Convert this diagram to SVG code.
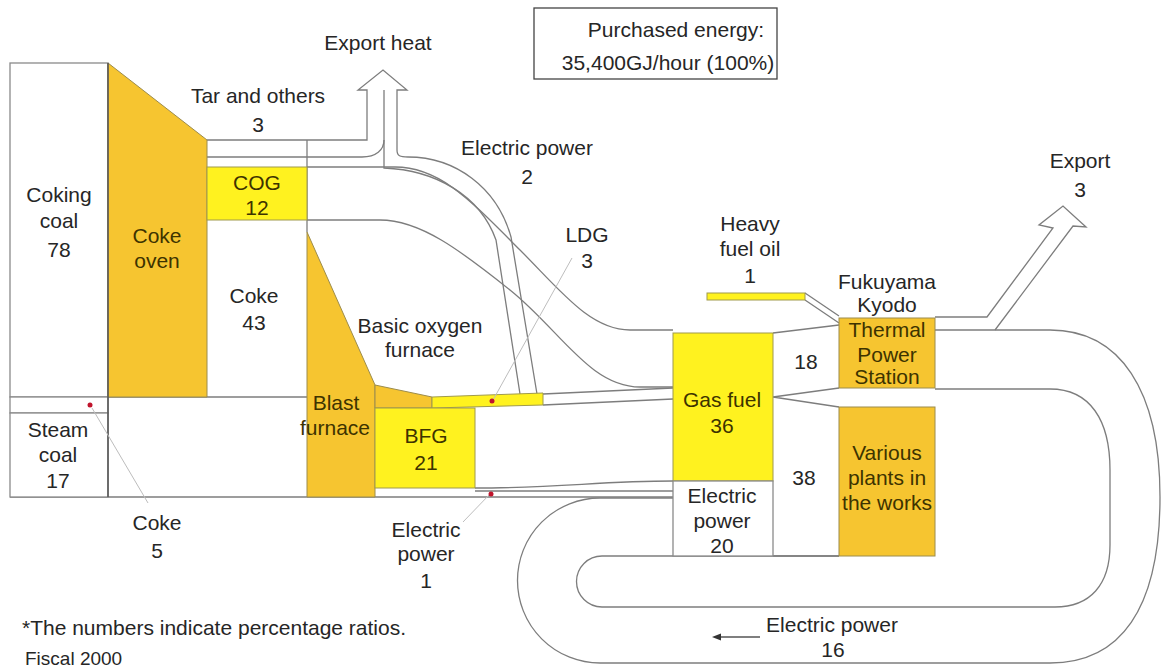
<svg xmlns="http://www.w3.org/2000/svg" width="1168" height="671" viewBox="0 0 1168 671">
<style>
.t{font-family:"Liberation Sans",Arial,sans-serif;font-size:21px;fill:#262626;text-anchor:middle}
.tb{fill:#3d3300}
.ln{fill:none;stroke:#7d7d7d;stroke-width:1.3}
.org{fill:#F6C530;stroke:#9c8c4c;stroke-width:1}
.yel{fill:#FFF21F;stroke:#a09a4c;stroke-width:1}
.box{fill:#fff;stroke:#8a8a8a;stroke-width:1.3}
.lead{stroke:#bdbdbd;stroke-width:1;fill:none}
.dot{fill:#c0142c}
</style>
<rect x="0" y="0" width="1168" height="671" fill="#fff"/>
<g id="connectors">
  <path class="ln" d="M108,397 H307"/>
  <path class="ln" d="M10,497 H673"/>
  <path class="ln" d="M307,140 V232"/>
  <path class="ln" d="M207,140 H367 V90 H358 L383,70 L407,90 H397 V150 C397,156 400,157 408,157 C455,157 497,187 511,237 L537,394"/>
  <path class="ln" d="M207,157 H362 C376,157 384,150 384,140"/>
  <path class="ln" d="M384,90 V168 C435,170 480,195 496,240 L520,394"/>
  <path class="ln" d="M307,167 H395 C440,167 470,200 520,250 C560,290 590,330 630,330 H673"/>
  <path class="ln" d="M307,220 H380 C420,220 460,250 510,290 C560,330 590,387 640,387 H673"/>
  <path class="ln" d="M543,394 L673,388 M543,405 L673,399"/>
  <path class="ln" d="M475,488 C560,488 600,481 673,481"/>
  <path class="ln" d="M475,491 H673"/>
  <path class="ln" d="M773,333 L839,325 M773,397 L839,388 M773,397 L839,407 M773,556 H839"/>
  <path class="ln" d="M805,293 L839,316 M805,300 L839,323"/>
  <path class="ln" d="M935,317 H987 L1053,228 L1039,225 L1063,206 L1086,227 L1073,226 L995,330"/>
  <path class="ln" d="M935,330 H1050 C1120,330 1160,390 1160,497 C1160,610 1120,663 1050,663 H600 A82.5,82.5 0 0 1 600,498 H673"/>
  <path class="ln" d="M935,389 H1050 C1090,389 1110,420 1110,470 V545 C1110,585 1090,607 1055,607 H602 A25.5,25.5 0 0 1 602,556 H839"/>
  <path d="M760,637 H718" stroke="#555" stroke-width="1.3"/>
  <path d="M712,637 L721,633.5 L721,640.5 Z" fill="#333"/>
</g>
<g id="coking-coal">
  <rect class="box" x="10" y="63" width="98" height="334"/>
  <text class="t" x="59" y="202">Coking</text>
  <text class="t" x="59" y="228">coal</text>
  <text class="t" x="59" y="257">78</text>
</g>
<g id="steam-coal">
  <rect class="box" x="10" y="397" width="98" height="16"/>
  <rect class="box" x="10" y="413" width="98" height="84"/>
  <text class="t" x="58" y="437">Steam</text>
  <text class="t" x="58" y="462">coal</text>
  <text class="t" x="58" y="488">17</text>
</g>
<g id="coke-oven">
  <path class="org" d="M108,63 L207,140 V397 H108 Z"/>
  <path d="M108,63 V497" stroke="#555" stroke-width="1.5"/>
  <text class="t tb" x="157" y="243">Coke</text>
  <text class="t tb" x="157" y="268">oven</text>
</g>
<g id="cog">
  <rect class="yel" x="207" y="167" width="100" height="53"/>
  <text class="t tb" x="257" y="190">COG</text>
  <text class="t tb" x="257" y="215">12</text>
</g>
<g id="blast-furnace">
  <path class="org" d="M307,232 L375,385 V497 H307 Z"/>
  <text class="t tb" x="336" y="410">Blast</text>
  <text class="t tb" x="335" y="435">furnace</text>
</g>
<g id="bof">
  <path class="org" d="M375,385 L432,397 V408 H375 Z"/>
</g>
<g id="ldg">
  <path class="yel" d="M432,397 L543,393 V405 L432,408 Z"/>
</g>
<g id="bfg">
  <rect class="yel" x="375" y="408" width="100" height="80"/>
  <text class="t tb" x="426" y="443">BFG</text>
  <text class="t tb" x="426" y="470">21</text>
</g>
<g id="gas-fuel">
  <rect class="yel" x="673" y="333" width="100" height="148"/>
  <text class="t tb" x="722" y="407">Gas fuel</text>
  <text class="t tb" x="722" y="433">36</text>
</g>
<g id="electric-power-20">
  <rect class="box" x="673" y="481" width="100" height="75"/>
  <text class="t" x="722" y="503">Electric</text>
  <text class="t" x="722" y="528">power</text>
  <text class="t" x="722" y="553">20</text>
</g>
<g id="heavy-fuel-oil">
  <rect class="yel" x="707" y="293" width="98" height="7"/>
</g>
<g id="thermal-power-station">
  <rect class="org" x="839" y="318" width="96" height="70"/>
  <text class="t tb" x="887" y="337">Thermal</text>
  <text class="t tb" x="887" y="362">Power</text>
  <text class="t tb" x="887" y="384">Station</text>
</g>
<g id="various-plants">
  <rect class="org" x="839" y="407" width="96" height="149"/>
  <text class="t tb" x="887" y="460">Various</text>
  <text class="t tb" x="887" y="485">plants in</text>
  <text class="t tb" x="887" y="510">the works</text>
</g>
<g id="purchased-energy">
  <rect x="534" y="8" width="243" height="71" fill="#fff" stroke="#444" stroke-width="1.3"/>
  <text class="t" x="676" y="37">Purchased energy:</text>
  <text class="t" x="668" y="70">35,400GJ/hour (100%)</text>
</g>
<g id="annotations">
  <path class="lead" d="M92,408 L148,503 M493,400 L572,258 M490,494 L463,522"/>
  <circle class="dot" cx="90" cy="405" r="2.5"/>
  <circle class="dot" cx="492" cy="401" r="2.5"/>
  <circle class="dot" cx="491" cy="494" r="2.5"/>
</g>
<g id="labels">
  <text class="t" x="378" y="50">Export heat</text>
  <text class="t" x="258" y="103">Tar and others</text>
  <text class="t" x="258" y="132">3</text>
  <text class="t" x="527" y="155">Electric power</text>
  <text class="t" x="527" y="184">2</text>
  <text class="t" x="254" y="303">Coke</text>
  <text class="t" x="254" y="330">43</text>
  <text class="t" x="420" y="333">Basic oxygen</text>
  <text class="t" x="420" y="357">furnace</text>
  <text class="t" x="587" y="242">LDG</text>
  <text class="t" x="587" y="268">3</text>
  <text class="t" x="750" y="231">Heavy</text>
  <text class="t" x="750" y="256">fuel oil</text>
  <text class="t" x="750" y="283">1</text>
  <text class="t" x="887" y="289">Fukuyama</text>
  <text class="t" x="887" y="312">Kyodo</text>
  <text class="t" x="1080" y="168">Export</text>
  <text class="t" x="1080" y="197">3</text>
  <text class="t" x="806" y="369">18</text>
  <text class="t" x="804" y="485">38</text>
  <text class="t" x="157" y="530">Coke</text>
  <text class="t" x="157" y="558">5</text>
  <text class="t" x="426" y="537">Electric</text>
  <text class="t" x="426" y="561">power</text>
  <text class="t" x="426" y="588">1</text>
  <text class="t" x="832" y="632">Electric power</text>
  <text class="t" x="833" y="657">16</text>
  <text class="t" x="22" y="635" style="text-anchor:start">*The numbers indicate percentage ratios.</text>
  <text class="t" x="25" y="665" style="text-anchor:start;font-size:19px">Fiscal 2000</text>
</g>
</svg>
